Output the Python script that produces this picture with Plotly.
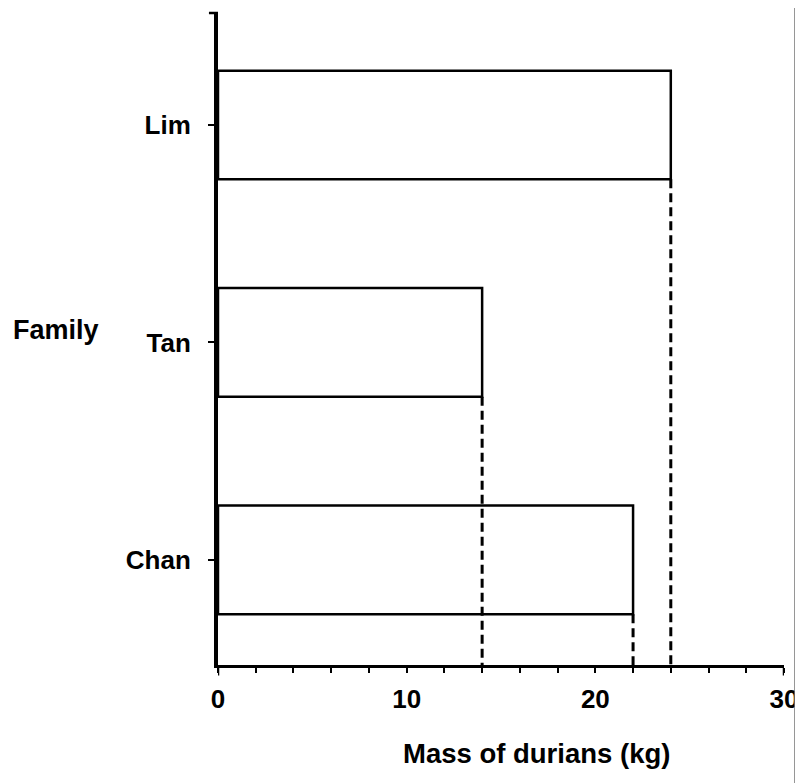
import plotly.graph_objects as go

# ---- data ----
families = ["Chan", "Tan", "Lim"]
masses = [22, 14, 24]
x_tick_vals = [0, 10, 20, 30]
x_tick_text = ["0", "10", "20", "30"]
x_title = "Mass of durians (kg)"
y_title = "Family"

positions = list(range(len(families)))
bar_width = 0.5
y_lo, y_hi = -0.483, 2.515
x_lo, x_hi = 0, 30

FONT = "Liberation Sans, Arial, sans-serif"
FS = 26

fig = go.Figure()
fig.add_trace(go.Bar(
    y=positions, x=masses, orientation="h", width=bar_width,
    marker=dict(color="white", line=dict(color="black", width=2.5)),
    hoverinfo="skip", showlegend=False,
))

# dashed drop lines from the bar ends to the x axis
for p, v in zip(positions, masses):
    fig.add_trace(go.Scatter(
        x=[v, v], y=[p - bar_width / 2, y_lo], mode="lines",
        line=dict(color="black", width=3, dash="9px,5px"),
        hoverinfo="skip", showlegend=False,
    ))

fig.update_layout(
    width=803, height=783,
    margin=dict(l=210, r=27, t=5, b=126),
    paper_bgcolor="white", plot_bgcolor="white",
    font=dict(family=FONT, color="black", size=FS),
    xaxis=dict(
        range=[x_lo, x_hi], showgrid=False, zeroline=False,
        showline=True, linecolor="black", linewidth=3, layer="above traces",
        tickmode="array", tickvals=x_tick_vals, ticktext=x_tick_text,
        ticks="outside", ticklen=5, tickwidth=2, tickcolor="black",
        ticklabelstandoff=4,
        tickfont=dict(family=FONT, size=FS, weight="bold"),
        minor=dict(dtick=2, ticks="outside", ticklen=5, tickwidth=2, tickcolor="black"),
        fixedrange=True,
    ),
    yaxis=dict(
        range=[y_lo, y_hi], showgrid=False, zeroline=False,
        showline=True, linecolor="black", linewidth=4, layer="above traces",
        tickmode="array", tickvals=positions, ticktext=families,
        ticks="outside", ticklen=6, tickwidth=2, tickcolor="black",
        ticklabelstandoff=12,
        tickfont=dict(family=FONT, size=FS, weight="bold"),
        fixedrange=True,
    ),
    annotations=[
        dict(text=y_title, xref="paper", yref="paper", x=-0.366, y=0.514,
             xanchor="left", yanchor="middle", showarrow=False,
             font=dict(family=FONT, size=27, weight="bold")),
        dict(text=x_title, xref="paper", yref="paper", x=0.562, y=-0.135,
             xanchor="center", yanchor="middle", showarrow=False,
             font=dict(family=FONT, size=27.5, weight="bold")),
    ],
    shapes=[
        # longer end ticks on x axis
        dict(type="line", xref="x", yref="y domain", x0=x_lo, x1=x_lo, y0=0, y1=-0.016,
             line=dict(color="black", width=2.5)),
        dict(type="line", xref="x", yref="y domain", x0=x_hi, x1=x_hi, y0=0, y1=-0.016,
             line=dict(color="black", width=2.5)),
        # small cap tick at top of y axis
        dict(type="line", xref="x domain", yref="y domain", x0=-0.016, x1=0, y0=1, y1=1,
             line=dict(color="black", width=2.5)),
        # scan border line on the right
        dict(type="line", xref="paper", yref="paper", x0=1.0194, x1=1.0194, y0=-0.2, y1=1.03,
             line=dict(color="#777777", width=1.5)),
    ],
)

fig.write_html("out.html")
